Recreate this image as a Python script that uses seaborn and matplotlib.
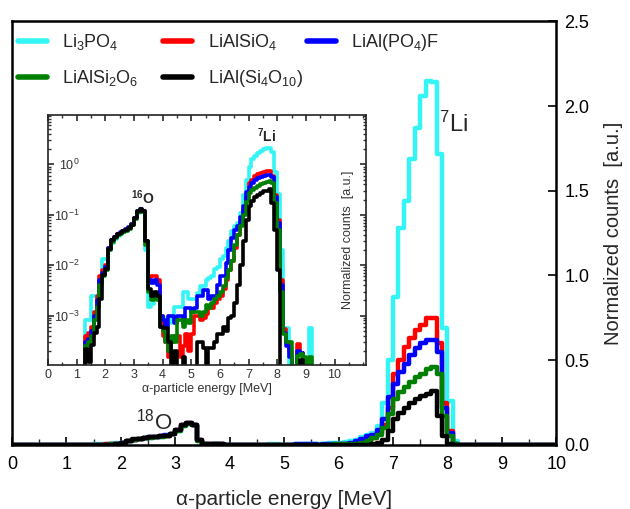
import numpy as np
import pandas as pd
import matplotlib
matplotlib.use('Agg')
import matplotlib.pyplot as plt
import seaborn as sns
from matplotlib.ticker import MultipleLocator, LogLocator, NullFormatter, FixedLocator

sns.set_theme(style='ticks')
plt.rcParams['font.family'] = ['Liberation Sans', 'DejaVu Sans']
plt.rcParams['mathtext.default'] = 'regular'

# left edges of the 0.1 MeV bins (1.2 ... 9.3 MeV)
bin_left = np.round(np.arange(1.2, 9.35, 0.1), 1)

li3po4 = [0, 8e-4, 8e-4, 2.5e-3, 2.5e-3, 2.5e-3, 3e-3, 0.013, 0.013, 0.02, 0.027, 0.033, 0.038, 0.042,
          0.045, 0.048, 0.053, 0.062, 0.082, 0.11, 0.125, 0.115, 0.02, 1.5e-3, 1.7e-3, 2.5e-3, 2.2e-3, 9e-4,
          9e-4, 5e-4, 7e-4, 1e-3, 1.5e-3, 1.5e-3, 1.5e-3, 2.9e-3, 2.9e-3, 2.1e-3, 2.1e-3, 2.1e-3, 2.8e-3,
          3.8e-3, 3.8e-3, 5e-3, 5.5e-3, 6e-3, 8.5e-3, 9e-3, 0.013, 0.015, 0.022, 0.03, 0.047, 0.06,
          0.07, 0.11, 0.25, 0.5, 0.87, 1.28, 1.44, 1.69, 1.87, 2.06, 2.15, 2.14, 1.72, 0.69, 0.26, 0.02,
          5.7e-4, 5.7e-4, 0, 0, 0, 0, 0, 0, 0, 5.7e-4, 0, 0]
lialsio4 = [0, 4e-4, 4.5e-4, 6e-4, 1.2e-3, 2.5e-3, 6e-3, 8e-3, 0.01, 0.022, 0.031, 0.037, 0.041, 0.044,
            0.047, 0.05, 0.055, 0.065, 0.086, 0.115, 0.13, 0.12, 0.03, 5.5e-3, 6e-3, 6e-3, 5e-3, 1e-3,
            4e-4, 3e-4, 1.5e-4, 3e-4, 4e-4, 4e-4, 1.5e-4, 2.5e-4, 4.4e-4, 2e-4, 4.4e-4, 9.6e-4, 9.6e-4,
            8e-4, 9e-4, 1.1e-3, 1.4e-3, 1.4e-3, 1.8e-3, 2.1e-3, 2.4e-3, 3.3e-3, 5e-3, 8e-3, 0.012, 0.022,
            0.04, 0.07, 0.12, 0.22, 0.42, 0.5, 0.58, 0.63, 0.68, 0.71, 0.75, 0.75, 0.6, 0.25, 0.08, 0.005,
            5.5e-4, 3e-4, 2e-4, 0, 0, 2.7e-4, 1.8e-4, 0, 0, 0, 0, 0]
lialpo4f = [0, 3e-4, 3.5e-4, 5e-4, 1e-3, 2e-3, 5e-3, 7e-3, 9e-3, 0.022, 0.031, 0.037, 0.041, 0.045,
            0.048, 0.051, 0.056, 0.066, 0.088, 0.118, 0.132, 0.12, 0.03, 5e-3, 4.5e-3, 5e-3, 4e-3, 1e-3,
            8e-4, 6e-4, 1e-3, 9.6e-4, 7e-4, 9.6e-4, 9.6e-4, 7e-4, 1.4e-3, 1.4e-3, 1.2e-3, 1.4e-3, 2.4e-3,
            2.4e-3, 3.2e-3, 3.2e-3, 2.1e-3, 2.4e-3, 2.4e-3, 4e-3, 6e-3, 6e-3, 0.011, 0.02, 0.035, 0.05,
            0.06, 0.09, 0.15, 0.28, 0.36, 0.43, 0.48, 0.53, 0.57, 0.6, 0.62, 0.62, 0.55, 0.22, 0.07, 0.004,
            4.5e-4, 2.5e-4, 1.5e-4, 0, 0, 2e-4, 1.8e-4, 0, 0, 0, 0, 0]
lialsi2o6 = [0, 2.5e-4, 3e-4, 4e-4, 8e-4, 1.5e-3, 4e-3, 6e-3, 8e-3, 0.02, 0.029, 0.035, 0.039, 0.042,
             0.045, 0.048, 0.053, 0.062, 0.083, 0.112, 0.125, 0.115, 0.025, 3e-3, 2e-3, 2.2e-3, 2e-3, 6e-4,
             5e-4, 3e-4, 2e-4, 4e-4, 3e-4, 8e-4, 8e-4, 6e-4, 8e-4, 7e-4, 1.2e-3, 1.2e-3, 1.2e-3, 1e-3,
             1.2e-3, 1.6e-3, 1.4e-3, 1.8e-3, 2.1e-3, 2.4e-3, 3e-3, 3.8e-3, 5.5e-3, 8e-3, 0.012, 0.025,
             0.04, 0.06, 0.1, 0.18, 0.27, 0.31, 0.34, 0.37, 0.4, 0.42, 0.45, 0.46, 0.42, 0.17, 0.05, 0.003,
             4.4e-4, 3e-4, 3e-4, 0, 0, 1.6e-4, 1.7e-4, 1.5e-4, 0, 1.5e-4, 0, 0]
lialsi4o10 = [0, 2.2e-4, 1.2e-4, 2.6e-4, 4.5e-4, 6e-4, 2.1e-3, 6.3e-3, 8.5e-3, 0.021, 0.032, 0.037, 0.042,
              0.044, 0.047, 0.05, 0.055, 0.064, 0.087, 0.12, 0.128, 0.12, 0.03, 3.3e-3, 2.5e-3, 3e-3, 2.5e-3,
              6e-4, 5.6e-4, 5.6e-4, 3e-4, 0, 2e-4, 0, 0, 1.5e-4, 0, 0, 0, 0, 3e-4, 3e-4, 2.3e-4, 0, 2.3e-4,
              2.3e-4, 3e-4, 4.4e-4, 4.4e-4, 6e-4, 5e-4, 9e-4, 1e-3, 1.8e-3,
              0.004, 0.01, 0.03, 0.08, 0.15, 0.19, 0.22, 0.25, 0.27, 0.29, 0.3, 0.32, 0.17, 0.05, 0.008, 0,
              0, 0, 0, 0, 0, 0, 1.3e-4, 0, 0, 0, 0, 0]

labels = ['Li$_3$PO$_4$', 'LiAlSiO$_4$', 'LiAl(PO$_4$)F', 'LiAlSi$_2$O$_6$', 'LiAl(Si$_4$O$_{10}$)']
colors = ['#33f5f5', '#ff0000', '#0000ff', '#008000', '#000000']
series = [li3po4, lialsio4, lialpo4f, lialsi2o6, lialsi4o10]

# long table for seaborn, padded with zeros out to 0 and 10 MeV
rows = []
for lab, vals in zip(labels, series):
    xs = [0.0] + list(bin_left) + [9.4, 10.0]
    ys = [0.0] + list(vals) + [0.0, 0.0]
    for x, y in zip(xs, ys):
        rows.append({'energy': x, 'counts': y, 'sample': lab})
df = pd.DataFrame(rows)
palette = dict(zip(labels, colors))

fig = plt.figure(figsize=(6.3, 5.09), dpi=100)
ax = fig.add_axes([0.019, 0.126, 0.864, 0.832])

sns.lineplot(data=df, x='energy', y='counts', hue='sample', hue_order=labels, palette=palette,
             drawstyle='steps-post', lw=3.2, estimator=None, sort=False, ax=ax)
ax.set_xlim(0, 10)
ax.set_ylim(0, 2.5)
ax.yaxis.tick_right()
ax.yaxis.set_label_position('right')
ax.xaxis.set_major_locator(MultipleLocator(1))
ax.xaxis.set_minor_locator(MultipleLocator(0.5))
ax.yaxis.set_major_locator(MultipleLocator(0.5))
ax.yaxis.set_major_formatter(plt.FuncFormatter(lambda v, p: f'{v:.1f}'))
ax.tick_params(axis='both', which='major', direction='in', length=6, width=1.2, labelsize=13, colors='black')
ax.tick_params(axis='x', which='minor', direction='in', length=4, width=1)
ax.tick_params(axis='x', pad=8)
ax.tick_params(axis='y', pad=6)
for s in ax.spines.values():
    s.set_linewidth(1.8)
    s.set_color('black')
ax.set_xlabel('α-particle energy [MeV]', fontsize=15, labelpad=12)
ax.set_ylabel('Normalized counts  [a.u.]', fontsize=14.5, labelpad=10)

ax.text(7.85, 1.85, '$^{7}$Li', fontsize=17)
ax.text(2.27, 0.09, '$^{18}$O', fontsize=16)

# legend: three fixed columns, two rows
h, l = ax.get_legend_handles_labels()
ax.get_legend().remove()
columns = [[0, 3], [1, 4], [2]]
col_x = [0.011, 0.278, 0.542]
legends = []
for idx, cx in zip(columns, col_x):
    leg = ax.legend([h[i] for i in idx], [l[i] for i in idx], loc='upper left',
                    bbox_to_anchor=(cx, 0.975), frameon=False, fontsize=13,
                    handlelength=1.6, handletextpad=0.85, borderaxespad=0.0,
                    borderpad=0.0, labelspacing=0.9)
    for lh in leg.get_lines():
        lh.set_linewidth(4)
    legends.append(leg)
# the last legend stays attached to the axes, the others are added as artists
for leg in legends[:-1]:
    ax.add_artist(leg)

# inset with log scale
ins = fig.add_axes([0.076, 0.283, 0.505, 0.491])
sns.lineplot(data=df, x='energy', y='counts', hue='sample', hue_order=labels, palette=palette,
             drawstyle='steps-post', lw=2.6, estimator=None, sort=False, ax=ins, legend=False)
ins.set_yscale('log')
ins.set_xlim(0, 11.1)
ins.set_ylim(1.05e-4, 9.5)
ins.xaxis.set_major_locator(FixedLocator(np.arange(0, 11)))
ins.xaxis.set_minor_locator(MultipleLocator(0.5))
ins.yaxis.set_major_locator(FixedLocator([1e-3, 1e-2, 1e-1, 1e0]))
ins.yaxis.set_minor_locator(LogLocator(base=10, subs=np.arange(2, 10) * 0.1, numticks=10))
ins.yaxis.set_minor_formatter(NullFormatter())
ins.tick_params(axis='both', which='both', direction='in', top=True, right=True, colors='#333333',
                labelsize=9)
ins.tick_params(axis='both', which='major', length=4)
ins.tick_params(axis='both', which='minor', length=2)
ins.tick_params(axis='y', pad=-23)
ins.tick_params(axis='x', pad=3)
for s in ins.spines.values():
    s.set_linewidth(1.2)
    s.set_color('#222222')
ins.set_xlabel('α-particle energy [MeV]', fontsize=9, color='#333333', labelpad=1)
ins.set_ylabel('')
ins.text(0.943, 0.5, 'Normalized counts  [a.u.]', transform=ins.transAxes, rotation=90,
         ha='center', va='center', fontsize=9, color='#333333')
ins.text(2.9, 0.16, '$^{16}$O', fontsize=10, fontweight='bold')
ins.text(7.3, 2.8, '$^{7}$Li', fontsize=10, fontweight='bold')

fig.savefig('out.png', dpi=100)
